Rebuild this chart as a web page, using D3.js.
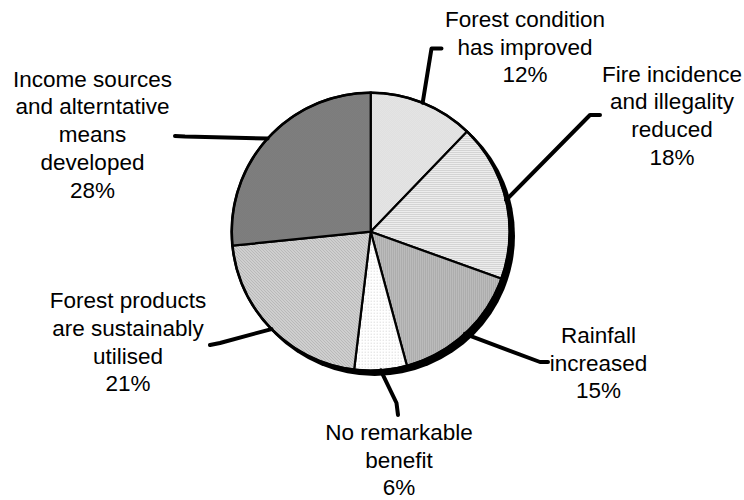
<!DOCTYPE html>
<html>
<head>
<meta charset="utf-8">
<script src="https://cdn.jsdelivr.net/npm/d3@7"></script>
<style>
  html, body { margin: 0; padding: 0; background: #fff; }
  svg { display: block; }
  text { font-family: "Liberation Sans", Arial, sans-serif; fill: #000; }
</style>
</head>
<body>
<svg id="chart" width="744" height="500"></svg>
<script>
// ---- data ----
const categories = [
  "Forest condition has improved",
  "Fire incidence and illegality reduced",
  "Rainfall increased",
  "No remarkable benefit",
  "Forest products are sustainably utilised",
  "Income sources and alterntative means developed"
];
const labelLines = [
  ["Forest condition", "has improved"],
  ["Fire incidence", "and illegality", "reduced"],
  ["Rainfall", "increased"],
  ["No remarkable", "benefit"],
  ["Forest products", "are sustainably", "utilised"],
  ["Income sources", "and alterntative", "means", "developed"]
];
// slice shares as drawn in the picture
const shares = [12.2, 18.3, 15.3, 6.1, 21.5, 26.6];
// percentages printed on the labels
const percentLabels = ["12%", "18%", "15%", "6%", "21%", "28%"];

// ---- layout ----
const cx = 370.7, cy = 231.7, R = 139;
const fontSize = 22.5, lineH = 27.7;
// label anchor (centre x, first baseline) and leader elbow/end points
const labelLayout = [
  { x: 525, y: 27,    elbow: [431.5, 48.5], end: [441.5, 48.5] },
  { x: 672, y: 81.7,  elbow: [590, 115],    end: [600, 115] },
  { x: 598.5, y: 343, elbow: [540, 362],    end: [548, 362] },
  { x: 399, y: 440,   elbow: [396.5, 403],  end: [398, 415] },
  { x: 128, y: 308.3, elbow: [220, 343],    end: [210, 345] },
  { x: 92.5, y: 86.7, elbow: [185, 136.5],  end: [175, 136] }
];

const svg = d3.select("#chart");
const defs = svg.append("defs");

function pat(id, w, h, bg, draw) {
  const p = defs.append("pattern").attr("id", id)
    .attr("patternUnits", "userSpaceOnUse").attr("width", w).attr("height", h);
  p.append("rect").attr("width", w).attr("height", h).attr("fill", bg);
  draw(p);
}
// forest condition: fine light checker
pat("p0", 2, 2, "#eeeeee", p => {
  p.append("rect").attr("x", 0).attr("y", 0).attr("width", 1).attr("height", 1).attr("fill", "#d6d6d6");
  p.append("rect").attr("x", 1).attr("y", 1).attr("width", 1).attr("height", 1).attr("fill", "#d6d6d6");
});
// fire: horizontal stripes
pat("p1", 4, 2, "#ffffff", p => {
  p.append("rect").attr("x", 0).attr("y", 0).attr("width", 4).attr("height", 1).attr("fill", "#c2c2c2");
});
// rainfall: vertical stripes
pat("p2", 2, 4, "#c6c6c6", p => {
  p.append("rect").attr("x", 0).attr("y", 0).attr("width", 1).attr("height", 4).attr("fill", "#a2a2a2");
});
// no remarkable: sparse dots
pat("p3", 3, 3, "#ffffff", p => {
  p.append("rect").attr("x", 0).attr("y", 0).attr("width", 1).attr("height", 1).attr("fill", "#d0d0d0");
});
// forest products: diagonal hatch
pat("p4", 3, 3, "#dcdcdc", p => {
  p.append("rect").attr("x", 0).attr("y", 0).attr("width", 1).attr("height", 1).attr("fill", "#a0a0a0");
  p.append("rect").attr("x", 1).attr("y", 1).attr("width", 1).attr("height", 1).attr("fill", "#a0a0a0");
  p.append("rect").attr("x", 2).attr("y", 2).attr("width", 1).attr("height", 1).attr("fill", "#a0a0a0");
});
// income: dark textured
pat("p5", 2, 2, "#848484", p => {
  p.append("rect").attr("x", 0).attr("y", 0).attr("width", 1).attr("height", 1).attr("fill", "#767676");
  p.append("rect").attr("x", 1).attr("y", 1).attr("width", 1).attr("height", 1).attr("fill", "#767676");
});

const data = categories.map((c, i) => ({ cat: c, value: shares[i], i }));
const pie = d3.pie().sort(null).value(d => d.value)(data);
const arc = d3.arc().innerRadius(0).outerRadius(R);
const edgeArc = d3.arc().innerRadius(R).outerRadius(R);

const g = svg.append("g").attr("transform", `translate(${cx},${cy})`);

// shadow
g.append("circle").attr("cx", 4).attr("cy", 4).attr("r", R + 1.3).attr("fill", "#000");

// slices
g.selectAll("path.slice").data(pie).join("path")
  .attr("class", "slice")
  .attr("d", arc)
  .attr("fill", d => `url(#p${d.index})`)
  .attr("stroke", "#000").attr("stroke-width", 2.2).attr("stroke-linejoin", "miter");

// outer rim
g.append("circle").attr("r", R).attr("fill", "none").attr("stroke", "#000").attr("stroke-width", 2.6);

// leader lines
const line = d3.line();
svg.selectAll("path.leader").data(pie).join("path")
  .attr("class", "leader")
  .attr("d", d => {
    const c = edgeArc.centroid(d);
    const L = labelLayout[d.index];
    return line([[cx + c[0], cy + c[1]], L.elbow, L.end]);
  })
  .attr("fill", "none").attr("stroke", "#000").attr("stroke-width", 4)
  .attr("stroke-linejoin", "round").attr("stroke-linecap", "round");

// labels
const labels = svg.selectAll("text.lbl").data(pie).join("text")
  .attr("class", "lbl")
  .attr("text-anchor", "middle")
  .attr("font-size", fontSize);
labels.each(function(d) {
  const L = labelLayout[d.index];
  const lines = labelLines[d.index].concat([percentLabels[d.index]]);
  d3.select(this).selectAll("tspan").data(lines).join("tspan")
    .attr("x", L.x)
    .attr("y", (t, k) => L.y + k * lineH)
    .text(t => t);
});
</script>
</body>
</html>
